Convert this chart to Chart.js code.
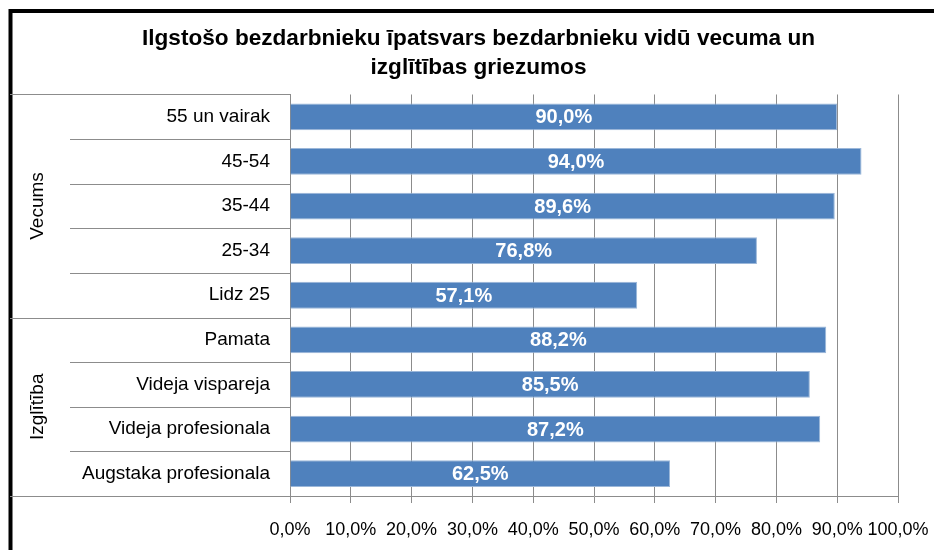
<!DOCTYPE html>
<html>
<head>
<meta charset="utf-8">
<script src="https://cdn.jsdelivr.net/npm/chart.js@4.4.1/dist/chart.umd.min.js"></script>
<style>
  html, body { margin: 0; padding: 0; background: #fff; overflow: hidden; }
  #wrap { width: 934px; height: 550px; position: relative; }
</style>
</head>
<body>
<div id="wrap"><canvas id="chart" width="934" height="550"></canvas></div>
<script>
// chart data
const titleLines = ['Ilgstošo bezdarbnieku īpatsvars bezdarbnieku vidū vecuma un', 'izglītības griezumos'];
const categories = ['55 un vairak', '45-54', '35-44', '25-34', 'Lidz 25', 'Pamata', 'Videja vispareja', 'Videja profesionala', 'Augstaka profesionala'];
const shares = [90.0, 94.0, 89.6, 76.8, 57.1, 88.2, 85.5, 87.2, 62.5];
const groupNames = ['Vecums', 'Izglītība'];
const groupSizes = [5, 4];
const xTicks = [0, 10, 20, 30, 40, 50, 60, 70, 80, 90, 100];

const FONT = "'Liberation Sans', Arial, sans-serif";
const GRID = '#8c8c8c';

const fmt = v => v.toFixed(1).replace('.', ',') + '%';

// outer black frame of the chart (cropped on right and bottom)
const framePlugin = {
    id: 'frame',
    afterDraw(chart) {
        const ctx = chart.ctx;
        ctx.save();
        ctx.strokeStyle = '#000';
        ctx.lineWidth = 4;
        ctx.strokeRect(10.5, 11, 1000, 1000);
        ctx.restore();
    }
};

// two level category axis: separators and rotated group names
const groupAxisPlugin = {
    id: 'groupAxis',
    afterDraw(chart) {
        const ctx = chart.ctx, y = chart.scales.y, area = chart.chartArea;
        const rowH = Math.abs(y.getPixelForValue(1) - y.getPixelForValue(0));
        const boundary = i => y.getPixelForValue(i) - rowH / 2;
        const innerLeft = area.left - 220, outerLeft = 10;
        ctx.save();
        ctx.strokeStyle = GRID;
        ctx.lineWidth = 1;
        const starts = [0];
        groupSizes.forEach((n, i) => starts.push(starts[i] + n));
        for (let i = 0; i <= categories.length; i++) {
            const yy = Math.round(boundary(i)) + 0.5;
            const x0 = starts.includes(i) ? outerLeft : innerLeft;
            ctx.beginPath();
            ctx.moveTo(x0, yy);
            ctx.lineTo(area.left, yy);
            ctx.stroke();
        }
        ctx.fillStyle = '#000';
        ctx.font = '19px ' + FONT;
        ctx.textAlign = 'center';
        ctx.textBaseline = 'middle';
        groupNames.forEach((name, g) => {
            const mid = (boundary(starts[g]) + boundary(starts[g + 1])) / 2;
            ctx.save();
            ctx.translate(38, mid);
            ctx.rotate(-Math.PI / 2);
            ctx.fillText(name, 0, 0);
            ctx.restore();
        });
        ctx.restore();
    }
};

// values written in the middle of each bar
const barLabelPlugin = {
    id: 'barLabels',
    afterDatasetsDraw(chart) {
        const ctx = chart.ctx;
        const meta = chart.getDatasetMeta(0);
        ctx.save();
        ctx.fillStyle = '#fff';
        ctx.font = 'bold 20px ' + FONT;
        ctx.textAlign = 'center';
        ctx.textBaseline = 'middle';
        meta.data.forEach((bar, i) => {
            const p = bar.getCenterPoint();
            ctx.fillText(fmt(shares[i]), p.x, p.y + 1);
        });
        ctx.restore();
    }
};

new Chart(document.getElementById('chart'), {
    type: 'bar',
    data: {
        labels: categories,
        datasets: [{
            data: shares,
            backgroundColor: '#4f81bd',
            borderColor: '#9bb7d9',
            borderWidth: { top: 1, bottom: 1, left: 0, right: 1 },
            borderSkipped: 'left',
            barPercentage: 0.6,
            categoryPercentage: 1
        }]
    },
    options: {
        indexAxis: 'y',
        responsive: false,
        animation: false,
        devicePixelRatio: 1,
        layout: { padding: { left: 59, right: 36, top: 0, bottom: 0 } },
        scales: {
            x: {
                min: 0,
                max: 100,
                afterBuildTicks: s => { s.ticks = xTicks.map(v => ({ value: v })); },
                afterFit: s => { s.height = 54; s.paddingLeft = 0; s.paddingRight = 0; },
                ticks: {
                    callback: v => fmt(v),
                    color: '#000',
                    font: { family: FONT, size: 18 },
                    padding: 16,
                    maxRotation: 0,
                    autoSkip: false
                },
                grid: { color: GRID, tickLength: 7, tickColor: GRID },
                border: { color: GRID }
            },
            y: {
                afterFit: s => { s.width = 231; },
                ticks: {
                    color: '#000',
                    font: { family: FONT, size: 19 },
                    padding: 12,
                    autoSkip: false
                },
                grid: { display: false },
                border: { display: true, color: GRID }
            }
        },
        plugins: {
            legend: { display: false },
            tooltip: { enabled: false },
            title: {
                display: true,
                text: titleLines,
                color: '#000',
                font: { family: FONT, size: 22.6, weight: 'bold', lineHeight: 1.283 },
                padding: { top: 24.5, bottom: 12 }
            }
        }
    },
    plugins: [framePlugin, groupAxisPlugin, barLabelPlugin]
});
</script>
</body>
</html>
